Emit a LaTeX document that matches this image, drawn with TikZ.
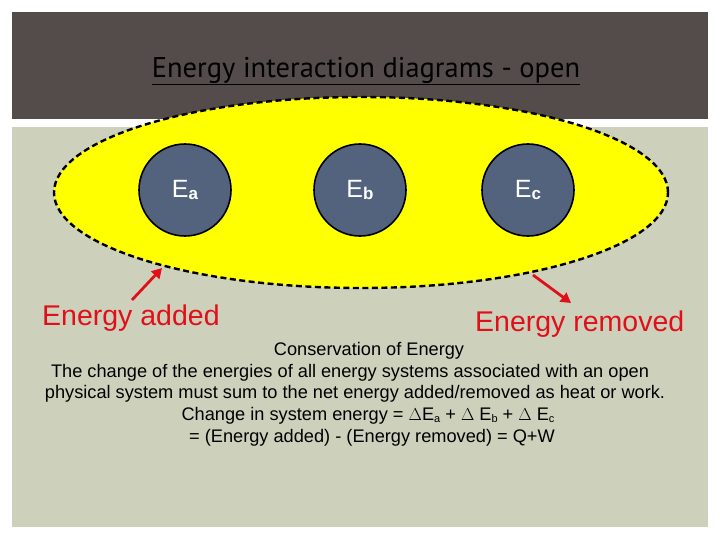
\documentclass[tikz,border=0pt]{standalone}
\usepackage{fontspec}
\setmainfont{Liberation Sans}
\newfontfamily\titlefont{PT Sans}
\usetikzlibrary{shapes.geometric,arrows.meta}
\definecolor{hdr}{HTML}{544C4A}
\definecolor{bg}{HTML}{CDD1BC}
\definecolor{sysfill}{HTML}{FFFF00}
\definecolor{ballfill}{HTML}{53637E}
\definecolor{redarrow}{HTML}{E0101A}
\tikzset{
  ball/.style={circle,draw=black,line width=1.6pt,fill=ballfill,minimum size=92pt,inner sep=0pt,text=white,font=\fontsize{25}{27}\selectfont},
  redlabel/.style={text=redarrow,font=\fontsize{28.5}{30}\selectfont,inner sep=0pt,anchor=west},
  redarr/.style={draw=redarrow,line width=2.8pt,-{Triangle[length=10pt,width=11pt]}},
  bodytext/.style={font=\fontsize{18.2}{20}\selectfont,inner sep=0pt,text=black}
}
\newcommand{\sbx}[1]{\raisebox{-2pt}{\fontsize{17}{18}\selectfont\bfseries #1}}
\newcommand{\ssub}[1]{\raisebox{-2pt}{\fontsize{11}{12}\selectfont #1}}
\begin{document}
\begin{tikzpicture}[x=1pt,y=-1pt]
\useasboundingbox (0,0) rectangle (720,540);
\fill[white] (0,0) rectangle (720,540);
\fill[hdr] (12,12) rectangle (708,119);
\fill[bg] (12,127) rectangle (708,527);
\node[inner sep=0pt,text=black,font=\titlefont\fontsize{28.5}{30}\selectfont] (title) at (366,71) {\underline{Energy interaction diagrams - open}};
\node[ellipse,draw=black,dash pattern=on 6pt off 3.5pt,line width=2.4pt,fill=sysfill,minimum width=614pt,minimum height=191pt,inner sep=0pt] (sys) at (361,192.5) {};
\node[ball] (Ea) at (185,190) {E\sbx{a}};
\node[ball] (Eb) at (360,190) {E\sbx{b}};
\node[ball] (Ec) at (528,190) {E\sbx{c}};
\node[redlabel] (added) at (42,318) {Energy added};
\node[redlabel] (removed) at (475,324) {Energy removed};
\coordinate (a1) at (132,300);
\coordinate (a2) at (162,268);
\coordinate (r1) at (533,275);
\coordinate (r2) at (571,303);
\draw[redarr] (a1) -- (a2);
\draw[redarr] (r1) -- (r2);
\node[bodytext] (l1) at (369,351) {Conservation of Energy};
\node[bodytext] (l2) at (350,373) {The change of the energies of all energy systems associated with an open};
\node[bodytext] (l3) at (355,394) {physical system must sum to the net energy added/removed as heat or work.};
\node[bodytext] (l4) at (368,416) {Change in system energy = $\Delta$E\ssub{a} + $\Delta$ E\ssub{b} + $\Delta$ E\ssub{c}};
\node[bodytext] (l5) at (372,438) {= (Energy added) - (Energy removed) = Q+W};
\end{tikzpicture}
\end{document}
